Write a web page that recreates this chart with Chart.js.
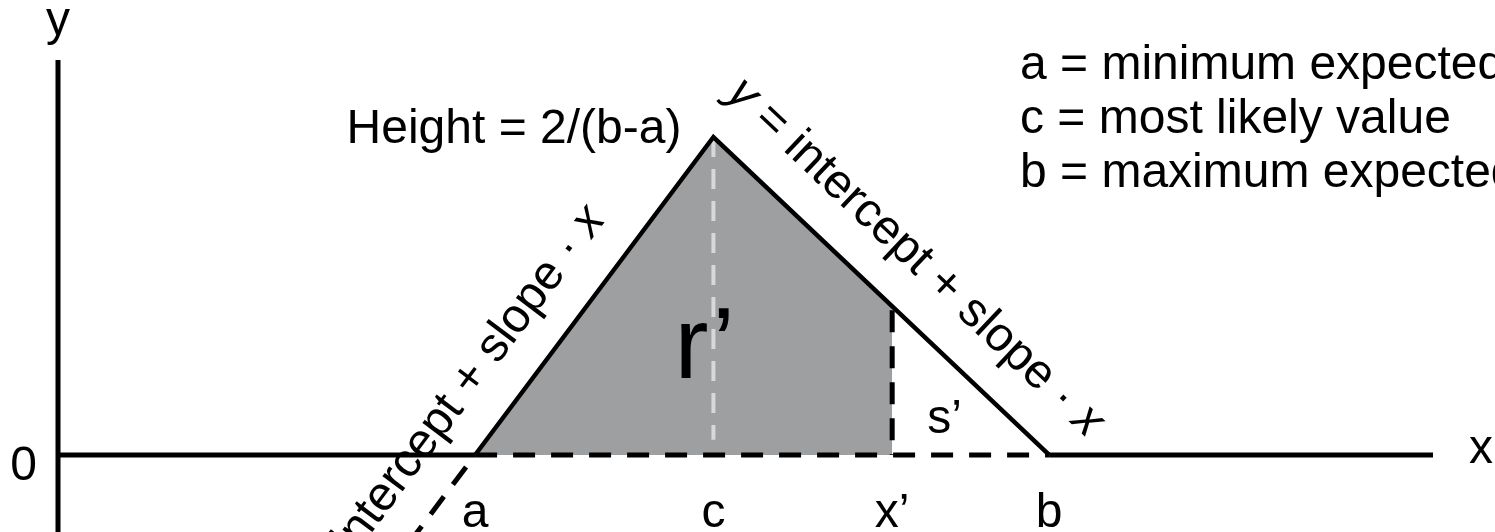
<!DOCTYPE html>
<html>
<head>
<meta charset="utf-8">
<script src="https://cdn.jsdelivr.net/npm/chart.js@4.4.1/dist/chart.umd.min.js"></script>
<style>
  html, body { margin: 0; padding: 0; background: #fff; }
  #wrap { width: 1495px; height: 532px; }
</style>
</head>
<body>
<div id="wrap"><canvas id="chart" width="1495" height="532"></canvas></div>
<script>
/*-------------------------------------------------------------------------*/
// Triangular distribution values
/*-------------------------------------------------------------------------*/
var pointNames = ['a', 'c', 'x\u2019', 'b'];
var pointValues = [3.64, 5.72, 7.28, 8.65];   // a, c, x', b
var axisEnds = [12, 0.496];                    // x axis end, y axis top
var legendLines = ['a = minimum expected value', 'c = most likely value', 'b = maximum expected value'];
var edgeLabel = ['y', ' = intercept + slope \u00b7 ', 'x'];

var a = pointValues[0], c = pointValues[1], xPrime = pointValues[2], b = pointValues[3];
var xAxisEnd = axisEnds[0], yAxisTop = axisEnds[1];
var peakHeight = 2 / (b - a);
var leftSlope = peakHeight / (c - a);
var yAtXPrime = peakHeight * (b - xPrime) / (b - c);
var yBelow = -0.12;

var FONT = '"Liberation Sans", Arial, Helvetica, sans-serif';

function line(data, opts) {
	var ds = {
		data: data,
		borderColor: '#000',
		borderWidth: 5,
		borderCapStyle: 'butt',
		borderJoinStyle: 'miter',
		pointRadius: 0,
		fill: false,
		tension: 0
	};
	for (var k in opts) ds[k] = opts[k];
	return ds;
}

// Draw a run of text along a rotated baseline (first and last parts italic)
function drawRun(ctx, x, y, angle, parts, size) {
	ctx.save();
	ctx.translate(x, y);
	ctx.rotate(angle);
	ctx.textAlign = 'left';
	var cx = 0;
	parts.forEach(function(p, i) {
		var italic = (i == 0 || i == parts.length - 1);
		ctx.font = (italic ? 'italic ' : '') + size + 'px ' + FONT;
		ctx.fillText(p, cx, 0);
		cx += ctx.measureText(p).width;
	});
	ctx.restore();
}

function labelAlongEdge(ctx, p0, p1, along, off, size) {
	var dx = p1.x - p0.x, dy = p1.y - p0.y;
	var len = Math.sqrt(dx * dx + dy * dy);
	var ux = dx / len, uy = dy / len;
	var nx = uy, ny = -ux;
	drawRun(ctx, p0.x + along * ux + off * nx, p0.y + along * uy + off * ny, Math.atan2(uy, ux), edgeLabel, size);
}

var labelsPlugin = {
	id: 'diagramLabels',
	afterDatasetsDraw: function(chart) {
		var ctx = chart.ctx, xs = chart.scales.x, ys = chart.scales.y;
		var px = function(v) { return xs.getPixelForValue(v); };
		var py = function(v) { return ys.getPixelForValue(v); };
		ctx.save();
		ctx.fillStyle = '#000';
		ctx.textBaseline = 'alphabetic';
		ctx.font = '48px ' + FONT;

		// axis names
		ctx.textAlign = 'center';
		ctx.fillText('y', px(0), py(yAxisTop) - 25);
		ctx.fillText('x', px(xAxisEnd) + 48, py(0) + 8);
		ctx.textAlign = 'right';
		ctx.fillText('0', px(0) - 21, py(0) + 25);

		// names under the x axis
		ctx.textAlign = 'center';
		pointNames.forEach(function(name, i) {
			ctx.fillText(name, px(pointValues[i]), py(0) + 72);
		});

		// height of the peak
		ctx.textAlign = 'right';
		ctx.fillText('Height = 2/(b-a)', px(c) - 32, py(peakHeight) + 6);

		// legend text, top right
		ctx.textAlign = 'left';
		legendLines.forEach(function(t, i) {
			ctx.fillText(t, 1020, 79 + i * 54);
		});

		// area names
		ctx.fillText('s\u2019', px(xPrime) + 35, py(0) - 22);
		ctx.font = '102px ' + FONT;
		ctx.fillText('r\u2019', px(c) - 39, py(0) - 77);

		// edge equations
		var pa = { x: px(a), y: py(0) }, pc = { x: px(c), y: py(peakHeight) }, pb = { x: px(b), y: py(0) };
		labelAlongEdge(ctx, pa, pc, -232, 36, 48);
		labelAlongEdge(ctx, pc, pb, -20, 38, 48);
		ctx.restore();
	}
};

var chart = new Chart(document.getElementById('chart'), {
	type: 'line',
	data: {
		datasets: [
			// shaded area r'
			line([{ x: a, y: 0 }, { x: c, y: peakHeight }, { x: xPrime, y: yAtXPrime }, { x: xPrime, y: 0 }],
				{ borderWidth: 0, fill: 'origin', backgroundColor: '#9e9fa1', order: 10 }),
			// light dashed line at c
			line([{ x: c, y: peakHeight }, { x: c, y: 0.019 }],
				{ borderColor: '#d8d8d8', borderWidth: 4, borderDash: [20, 12], order: 9 }),
			// dashed line at x'
			line([{ x: xPrime, y: yAtXPrime - 0.005 }, { x: xPrime, y: 0 }],
				{ borderDash: [22, 14], order: 8 }),
			// dashed base between a and b
			line([{ x: a, y: 0 }, { x: b, y: 0 }], { borderDash: [22, 16], order: 7 }),
			// axes
			line([{ x: 0, y: 0 }, { x: a, y: 0 }], { order: 6 }),
			line([{ x: b, y: 0 }, { x: xAxisEnd, y: 0 }], { order: 6 }),
			line([{ x: 0, y: yAxisTop }, { x: 0, y: yBelow }], { order: 6 }),
			// triangle edges
			line([{ x: a, y: 0 }, { x: c, y: peakHeight }, { x: b, y: 0 }], { borderWidth: 4.5, order: 5 }),
			// left edge continued below the axis
			line([{ x: a, y: 0 }, { x: a + yBelow / leftSlope, y: yBelow }],
				{ borderDash: [22, 15], borderDashOffset: 22, order: 5 })
		]
	},
	options: {
		responsive: false,
		animation: false,
		events: [],
		layout: { padding: 0 },
		plugins: { legend: { display: false }, tooltip: { enabled: false } },
		scales: {
			x: { type: 'linear', display: false, min: -0.5062, max: 12.541 },
			y: { type: 'linear', display: false, min: -0.0967, max: 0.5712 }
		}
	},
	plugins: [labelsPlugin]
});
</script>
</body>
</html>
